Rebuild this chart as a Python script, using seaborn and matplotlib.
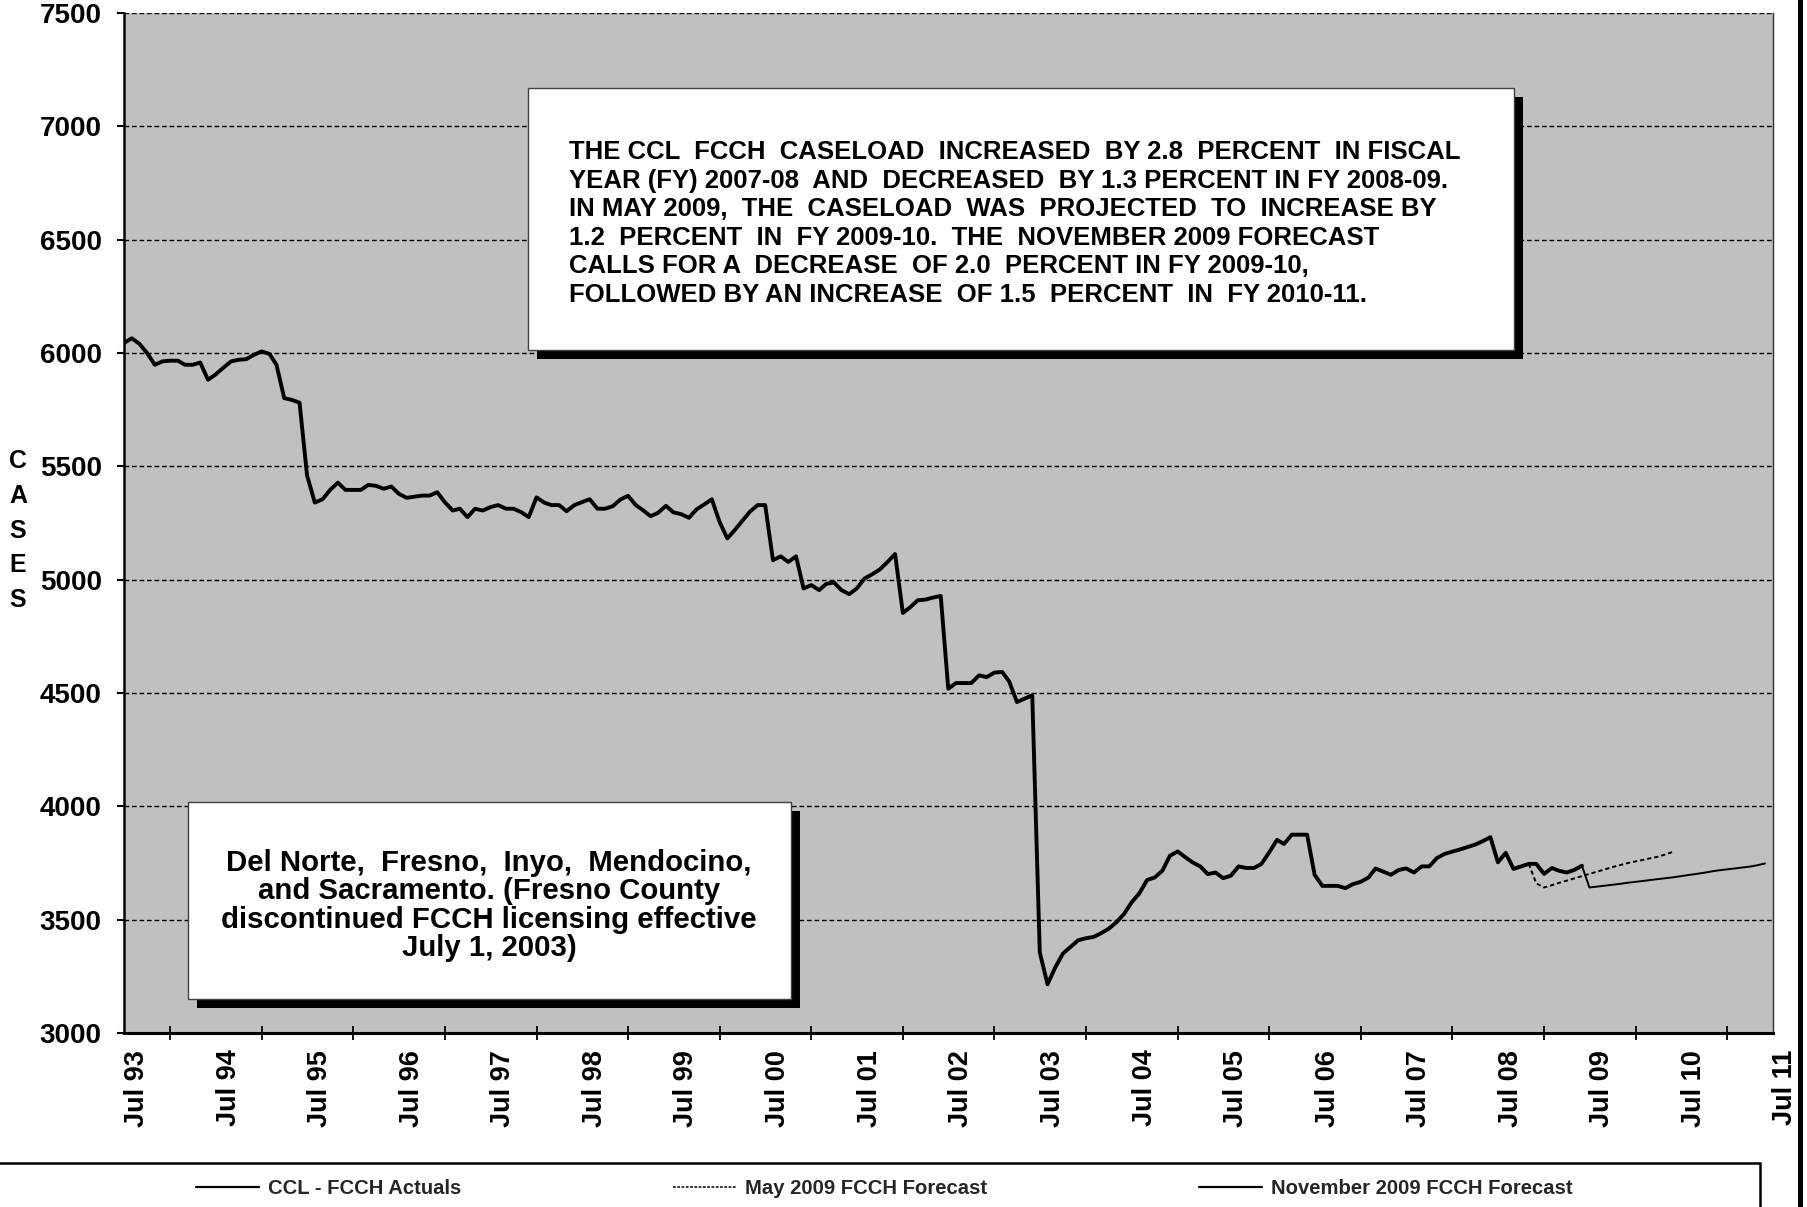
import matplotlib
matplotlib.use("Agg")
import matplotlib.pyplot as plt
import matplotlib.dates as mdates
import matplotlib.transforms as mtransforms
from matplotlib.patches import Rectangle
from matplotlib.lines import Line2D
import pandas as pd
import seaborn as sns

# ---- data (monthly caseload) ----
actual_start = "1993-07-01"
actuals = [
    6044, 6065, 6040, 6000, 5948, 5963, 5966, 5966, 5948, 5948, 5958, 5882,  # FY 93-94
    5905, 5935, 5963, 5970, 5973, 5992, 6007, 5996, 5948, 5801, 5793, 5781,  # FY 94-95
    5460, 5340, 5355, 5396, 5428, 5396, 5396, 5396, 5418, 5414, 5401, 5411,  # FY 95-96
    5379, 5361, 5366, 5371, 5371, 5386, 5341, 5305, 5313, 5276, 5313, 5305,  # FY 96-97
    5320, 5329, 5313, 5313, 5298, 5276, 5363, 5340, 5329, 5329, 5302, 5329,  # FY 97-98
    5342, 5355, 5313, 5313, 5324, 5353, 5370, 5329, 5307, 5280, 5295, 5326,  # FY 98-99
    5297, 5289, 5273, 5310, 5332, 5355, 5255, 5182, 5218, 5260, 5300, 5329,  # FY 99-00
    5329, 5086, 5103, 5078, 5103, 4961, 4976, 4954, 4981, 4988, 4954, 4936,  # FY 00-01
    4961, 5005, 5024, 5045, 5078, 5113, 4853, 4880, 4909, 4912, 4921, 4928,  # FY 01-02
    4519, 4544, 4544, 4544, 4578, 4570, 4590, 4593, 4551, 4460, 4475, 4490,  # FY 02-03
    3355, 3215, 3290, 3350, 3380, 3409, 3418, 3424, 3440, 3460, 3488, 3525,  # FY 03-04
    3576, 3616, 3675, 3686, 3716, 3782, 3801, 3775, 3753, 3735, 3701, 3708,  # FY 04-05
    3683, 3694, 3735, 3728, 3728, 3746, 3797, 3852, 3834, 3875, 3875, 3875,  # FY 05-06
    3698, 3649, 3649, 3649, 3639, 3657, 3667, 3686, 3726, 3712, 3698, 3719,  # FY 06-07
    3726, 3708, 3735, 3735, 3772, 3790, 3800, 3810, 3820, 3831, 3846, 3864,  # FY 07-08
    3753, 3795, 3724, 3735, 3746, 3746, 3702, 3728, 3716, 3708, 3719, 3738,  # FY 08-09
]

may_start = "2008-11-01"
may_forecast = [
    3746, 3660, 3642, 3652, 3662, 3672, 3682, 3692, 3702, 3712,
    3722, 3732, 3741, 3750, 3757, 3764, 3771, 3778, 3788, 3800,
]

nov_start = "2009-06-01"
nov_forecast = [
    3738, 3642, 3646, 3650, 3654, 3658, 3663, 3667, 3671, 3675, 3679, 3683, 3687,
    3692, 3697, 3702, 3707, 3713, 3718, 3722, 3726, 3730, 3734, 3740, 3748,
]

series_labels = ["CCL - FCCH Actuals", "May 2009 FCCH Forecast",
                 "November 2009 FCCH Forecast"]
y_ticks = list(range(3000, 7501, 500))
y_title = "CASES"

summary_lines = [
    "THE CCL  FCCH  CASELOAD  INCREASED  BY 2.8  PERCENT  IN FISCAL",
    "YEAR (FY) 2007-08  AND  DECREASED  BY 1.3 PERCENT IN FY 2008-09.",
    "IN MAY 2009,  THE  CASELOAD  WAS  PROJECTED  TO  INCREASE BY",
    "1.2  PERCENT  IN  FY 2009-10.  THE  NOVEMBER 2009 FORECAST",
    "CALLS FOR A  DECREASE  OF 2.0  PERCENT IN FY 2009-10,",
    "FOLLOWED BY AN INCREASE  OF 1.5  PERCENT  IN  FY 2010-11.",
]
county_lines = [
    "Del Norte,  Fresno,  Inyo,  Mendocino,",
    "and Sacramento. (Fresno County",
    "discontinued FCCH licensing effective",
    "July 1, 2003)",
]

df_act = pd.DataFrame({"month": pd.date_range(actual_start, periods=len(actuals), freq="MS"),
                       "cases": actuals})
df_may = pd.DataFrame({"month": pd.date_range(may_start, periods=len(may_forecast), freq="MS"),
                       "cases": may_forecast})
df_nov = pd.DataFrame({"month": pd.date_range(nov_start, periods=len(nov_forecast), freq="MS"),
                       "cases": nov_forecast})

# ---- figure setup ----
sns.set_theme(style="white")
plt.rcParams["font.family"] = ["Liberation Sans", "DejaVu Sans"]
plt.rcParams["font.weight"] = "bold"

W, H = 1807, 1207
fig = plt.figure(figsize=(W / 100, H / 100), dpi=100)
fig.patch.set_facecolor("white")


def fx(x):
    return x / W


def fy(y):
    return 1 - y / H


ax = fig.add_axes([fx(124), fy(1033), fx(1772.5) - fx(124), fy(13) - fy(1033)])
ax.set_facecolor("#C0C0C0")

sns.lineplot(data=df_act, x="month", y="cases", ax=ax, color="black",
             linewidth=2.8, zorder=4, legend=False)
sns.lineplot(data=df_may, x="month", y="cases", ax=ax, color="black",
             linewidth=1.4, linestyle=(0, (2.2, 1.5)), zorder=3, legend=False)
sns.lineplot(data=df_nov, x="month", y="cases", ax=ax, color="black",
             linewidth=1.4, zorder=3, legend=False)

ax.set_xlim(pd.Timestamp("1993-07-01"), pd.Timestamp("2011-07-01"))
ax.set_ylim(y_ticks[0], y_ticks[-1])
ax.set_yticks(y_ticks)
ax.set_xlabel("")
ax.set_ylabel("")

ax.xaxis.set_major_locator(mdates.MonthLocator(bymonth=7, bymonthday=1))
ax.xaxis.set_major_formatter(mdates.DateFormatter("%b %y"))
ax.xaxis.set_minor_locator(mdates.MonthLocator(bymonth=1, bymonthday=1))

ax.tick_params(axis="y", which="major", direction="out", length=5, width=1.5,
               pad=11, labelsize=20, color="black", labelcolor="black", left=True)
ax.tick_params(axis="x", which="major", length=0, pad=12, labelsize=19.5,
               labelrotation=90, labelcolor="black")
ax.tick_params(axis="x", which="minor", direction="inout", length=10, width=1.3,
               color="black", bottom=True)
shift = mtransforms.ScaledTranslation(13 / 100, 0, fig.dpi_scale_trans)
for lab in ax.get_xticklabels():
    lab.set_fontweight("bold")
    lab.set_transform(lab.get_transform() + shift)
for lab in ax.get_yticklabels():
    lab.set_fontweight("bold")

ax.set_axisbelow(True)
ax.grid(False)
ax.yaxis.grid(True, color="black", linewidth=1.0, linestyle=(0, (3.4, 2)))

ax.spines["top"].set_visible(False)
ax.spines["left"].set_color("black")
ax.spines["left"].set_linewidth(1.8)
ax.spines["bottom"].set_color("black")
ax.spines["bottom"].set_linewidth(2.2)
ax.spines["right"].set_color("#303030")
ax.spines["right"].set_linewidth(1.0)


# ---- annotation boxes with drop shadows ----
def shadow_box(left, top, right, bottom, off=9):
    w = fx(right) - fx(left)
    h = fy(top) - fy(bottom)
    fig.add_artist(Rectangle((fx(left + off), fy(bottom + off)), w, h,
                             transform=fig.transFigure, facecolor="black",
                             edgecolor="none", zorder=5))
    fig.add_artist(Rectangle((fx(left), fy(bottom)), w, h,
                             transform=fig.transFigure, facecolor="white",
                             edgecolor="#404040", linewidth=1.0, zorder=6))


def baseline(center_px, size_pt):
    return fy(center_px + 0.358 * size_pt * 100 / 72)


shadow_box(528, 88, 1514, 350)
fs_big = 18.5
for i, line in enumerate(summary_lines):
    fig.text(fx(569), baseline(149.8 + i * 28.6, fs_big), line, ha="left",
             va="baseline", fontsize=fs_big, fontweight="bold", color="black", zorder=7)

shadow_box(188, 802, 790.5, 999)
fs_small = 21.2
for i, line in enumerate(county_lines):
    fig.text(fx(489), baseline(860 + i * 28.5, fs_small), line, ha="center",
             va="baseline", fontsize=fs_small, fontweight="bold", color="black", zorder=7)

# vertical axis title, one letter per row
for i, ch in enumerate(y_title):
    fig.text(fx(18), baseline(459 + i * 34.8, 18), ch, ha="center",
             va="baseline", fontsize=18, fontweight="bold", color="black")

# ---- legend strip ----
fig.add_artist(Rectangle((fx(-10), fy(1240)), fx(1760) - fx(-10), fy(1163) - fy(1240),
                         transform=fig.transFigure, facecolor="white",
                         edgecolor="black", linewidth=1.8, zorder=2))
handles = [
    Line2D([], [], color="black", linewidth=1.6),
    Line2D([], [], color="black", linewidth=1.1, linestyle=(0, (1.8, 1.0))),
    Line2D([], [], color="black", linewidth=1.6),
]
leg = fig.legend(handles, series_labels, loc="center left",
                 bbox_to_anchor=(fx(196), fy(1189)), ncol=3, frameon=False,
                 prop={"size": 14.6, "weight": "bold"}, handlelength=3.1,
                 handletextpad=0.45, columnspacing=10.45, borderpad=0,
                 borderaxespad=0)
leg.set_zorder(3)

# heavy border line along the right edge
fig.add_artist(Line2D([fx(1799.5), fx(1799.5)], [0, 1], transform=fig.transFigure,
                      color="black", linewidth=3.6))

fig.savefig("out.png", dpi=100)
